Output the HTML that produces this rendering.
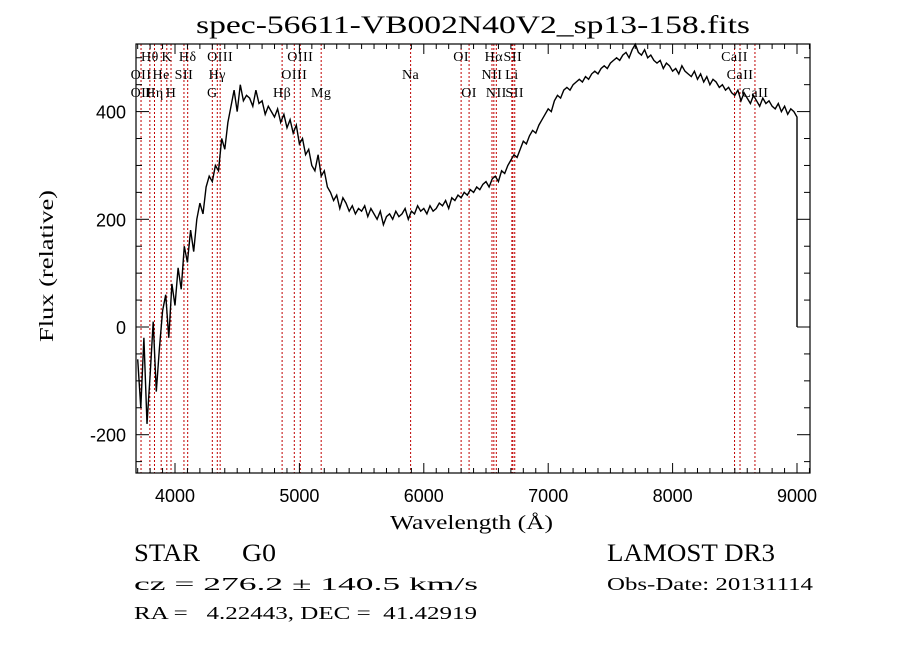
<!DOCTYPE html>
<html><head><meta charset="utf-8"><style>
body{margin:0;background:#fff;}
svg{display:block;}
</style></head><body>
<svg id="chart" width="900" height="649" xmlns="http://www.w3.org/2000/svg" font-family="Liberation Serif, serif">
<rect width="900" height="649" fill="#fff"/>
<text x="196" y="33" textLength="554" lengthAdjust="spacingAndGlyphs" font-size="25">spec-56611-VB002N40V2_sp13-158.fits</text>
<g id="lines"></g>
<g id="labels" font-size="14"></g>
<g id="ticks"></g>
<path id="spec" fill="none" stroke="#000" stroke-width="1.4"/>
<rect x="136" y="44" width="674" height="429" fill="none" stroke="#000" stroke-width="1.2"/>
<text x="390" y="529" textLength="163" lengthAdjust="spacingAndGlyphs" font-size="20">Wavelength (Å)</text>
<text transform="translate(53,342) rotate(-90)" textLength="152" lengthAdjust="spacingAndGlyphs" font-size="20">Flux (relative)</text>
<text x="134" y="561" textLength="66" lengthAdjust="spacingAndGlyphs" font-size="25">STAR</text>
<text x="242" y="561" textLength="34" lengthAdjust="spacingAndGlyphs" font-size="25">G0</text>
<text x="607" y="561" textLength="168" lengthAdjust="spacingAndGlyphs" font-size="25">LAMOST DR3</text>
<text x="134" y="590" textLength="344" lengthAdjust="spacingAndGlyphs" font-size="18">cz = 276.2 ± 140.5 km/s</text>
<text x="607" y="590" textLength="206" lengthAdjust="spacingAndGlyphs" font-size="18">Obs-Date: 20131114</text>
<text x="134" y="619" textLength="343" lengthAdjust="spacingAndGlyphs" font-size="18" xml:space="preserve">RA =   4.22443, DEC =  41.42919</text>
</svg>
<script>
const startWl = 3700;
const stepWl = 25;
const flux = [
-60,-150,-20,-180,-90,10,-120,-40,30,60,-20,80,
40,110,70,150,120,180,140,200,230,210,260,280,
270,300,290,350,330,380,410,440,400,450,420,430,
425,410,440,415,420,395,410,400,390,405,380,395,
370,385,360,375,340,350,320,330,300,290,320,280,
290,260,250,235,245,220,240,230,215,225,210,220,
215,225,205,220,210,200,215,190,205,210,200,215,
205,210,220,200,215,210,225,215,220,210,225,215,
220,230,225,235,220,240,235,245,240,250,245,255,
250,260,255,265,270,260,275,280,270,290,285,300,
310,320,315,330,345,340,355,365,360,375,385,395,
405,400,420,430,425,440,445,440,450,455,460,455,
465,460,470,475,470,480,485,480,490,495,500,495,
505,510,500,515,525,510,505,515,500,505,495,490,
495,480,490,485,475,480,470,485,475,470,465,475,
460,470,455,465,450,460,455,445,450,440,445,435,
430,440,420,435,425,415,430,420,410,425,415,420,
410,405,415,400,410,395,405,400,390];
const endWl = [9000, 9000];
const endFlux = [390, 0];
const lineWl = [3727,3798,3835,3889,3934,3968,4072,4102,4300,4340,4363,4861,4959,5007,5175,5894,6300,6364,6548,6563,6583,6708,6716,6731,8498,8542,8662];
const labelText = ["Hθ","K","Hδ","OIII","OIII","OI","Hα","SII","CaII","OII","He","SII","Hγ","OIII","Na","NII","Li","CaII","OII","Hη","H","G","Hβ","Mg","OI","NII","SII","CaII"];
const labelWl = [3798,3934,4102,4363,5007,6300,6563,6716,8498,3727,3889,4072,4340,4959,5894,6548,6708,8542,3727,3835,3968,4300,4861,5175,6364,6583,6731,8662];
const labelRow = [0,0,0,0,0,0,0,0,0,1,1,1,1,1,1,1,1,1,2,2,2,2,2,2,2,2,2,2];
const xTicks = [4000,5000,6000,7000,8000,9000];
const yTicks = [-200,0,200,400];

const X = w => 175 + (w-4000)*0.1244;
const Y = f => 327 - f*0.5385;
const NS = "http://www.w3.org/2000/svg";
function mk(tag, attrs){const e=document.createElementNS(NS,tag);for(const k in attrs)e.setAttribute(k,attrs[k]);return e;}

let d = "";
flux.forEach((f,i)=>{d += (i?"L":"M")+X(startWl+i*stepWl).toFixed(1)+","+Y(f).toFixed(1);});
endWl.forEach((w,i)=>{d += "L"+X(w).toFixed(1)+","+Y(endFlux[i]).toFixed(1);});
document.getElementById('spec').setAttribute('d', d);

const lg = document.getElementById('lines');
lineWl.forEach(w=>{
  const l = mk('line',{x1:X(w),x2:X(w),y1:44,y2:473,stroke:'#c00000','stroke-width':1,'stroke-dasharray':'2,2'});
  
  
  lg.appendChild(l);
});
const lb = document.getElementById('labels');
const rowY = [61,79,97];
labelText.forEach((t,i)=>{
  const e = mk('text',{x:X(labelWl[i]),y:rowY[labelRow[i]],'text-anchor':'middle','letter-spacing':'0.5'});
  e.textContent = t;
  
  
  lb.appendChild(e);
});
const tg = document.getElementById('ticks');
for(let w=3700; w<=9100; w+=100){
  const major = w%1000===0; const len = major?10:5;
  [[473,473-len],[44,44+len]].forEach(p=>{
    const t = mk('line',{x1:X(w),x2:X(w),y1:p[0],y2:p[1],stroke:'#000','stroke-width':1});
    
    
    tg.appendChild(t);
  });
}
for(let f=-250; f<=500; f+=50){
  const major = f%200===0; const len = major?13:6;
  [[136,136+len],[810,810-len]].forEach(p=>{
    const t = mk('line',{x1:p[0],x2:p[1],y1:Y(f),y2:Y(f),stroke:'#000','stroke-width':1});
    
    
    tg.appendChild(t);
  });
}
xTicks.forEach(w=>{
  const e = mk('text',{x:X(w),y:502,'text-anchor':'middle','font-size':18,'font-family':'Liberation Sans, sans-serif'});
  e.textContent = w;
  
  
  tg.appendChild(e);
});
yTicks.forEach(f=>{
  const e = mk('text',{x:126,y:Y(f)+7,'text-anchor':'end','font-size':18,'font-family':'Liberation Sans, sans-serif'});
  e.textContent = f;
  
  
  tg.appendChild(e);
});
</script>
</body></html>
